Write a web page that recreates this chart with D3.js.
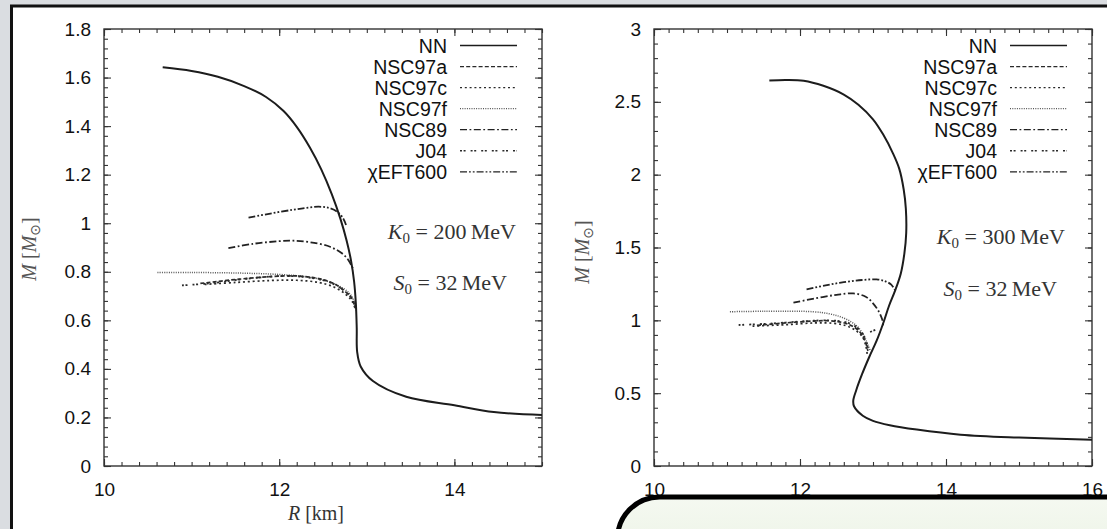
<!DOCTYPE html>
<html><head><meta charset="utf-8">
<script src="https://cdn.jsdelivr.net/npm/d3@7"></script>
<style>body{margin:0;background:#dadde1;overflow:hidden}</style>
</head><body>
<svg id="c" width="1107" height="529"></svg>
<script>
// ---------- DATA ----------
const seriesNames = ["NN","NSC97a","NSC97c","NSC97f","NSC89","J04","χEFT600"];

// K0 = 200 MeV panel
const xDomainK200 = [10, 15];
const yDomainK200 = [0, 1.8];
const xTicksK200 = [10, 12, 14];
const yTicksK200 = [0, 0.2, 0.4, 0.6, 0.8, 1, 1.2, 1.4, 1.6, 1.8];
const yTickLabelsK200 = ["0","0.2","0.4","0.6","0.8","1","1.2","1.4","1.6","1.8"];

const nnK200 = [[10.67,1.642],[11.0,1.627],[11.3,1.603],[11.6,1.565],[11.85,1.52],[12.05,1.462],[12.2,1.397],[12.35,1.312],[12.48,1.222],[12.6,1.12],[12.7,1.017],[12.77,0.928],[12.82,0.846],[12.855,0.76],[12.875,0.67],[12.885,0.57],[12.89,0.47],[12.93,0.41],[13.07,0.35],[13.45,0.285],[14.0,0.25],[14.45,0.222],[15.0,0.21]];
const nsc97aK200 = [[11.1,0.752],[11.5,0.768],[11.9,0.78],[12.2,0.783],[12.45,0.772],[12.62,0.752],[12.75,0.72],[12.83,0.69],[12.87,0.65]];
const nsc97cK200 = [[11.15,0.748],[11.5,0.756],[11.9,0.764],[12.2,0.765],[12.45,0.756],[12.62,0.738],[12.75,0.71],[12.83,0.68],[12.87,0.645]];
const nsc97fK200 = [[10.61,0.797],[11.0,0.797],[11.5,0.795],[12.0,0.789],[12.3,0.78],[12.5,0.766],[12.68,0.742],[12.8,0.712],[12.86,0.675],[12.88,0.64]];
const nsc89K200 = [[11.42,0.897],[11.7,0.915],[12.0,0.926],[12.16,0.928],[12.35,0.922],[12.58,0.903],[12.72,0.875],[12.79,0.848],[12.84,0.815]];
const j04K200 = [[10.89,0.744],[11.2,0.752],[11.6,0.77],[12.0,0.782],[12.3,0.778],[12.55,0.76],[12.72,0.728],[12.82,0.695],[12.87,0.655]];
const eftK200 = [[11.65,1.023],[11.9,1.04],[12.15,1.055],[12.3,1.063],[12.45,1.068],[12.57,1.063],[12.66,1.048],[12.73,1.02],[12.77,0.985]];

// K0 = 300 MeV panel
const xDomainK300 = [10, 16];
const yDomainK300 = [0, 3];
const xTicksK300 = [10, 12, 14, 16];
const yTicksK300 = [0, 0.5, 1, 1.5, 2, 2.5, 3];
const yTickLabelsK300 = ["0","0.5","1","1.5","2","2.5","3"];

const nnK300 = [[11.58,2.646],[11.8,2.65],[12.05,2.645],[12.32,2.61],[12.6,2.55],[12.8,2.48],[13.0,2.38],[13.14,2.275],[13.27,2.15],[13.36,2.04],[13.42,1.9],[13.45,1.766],[13.455,1.6],[13.43,1.46],[13.38,1.32],[13.3,1.2],[13.22,1.1],[13.14,0.98],[13.05,0.86],[12.95,0.75],[12.85,0.63],[12.77,0.52],[12.73,0.45],[12.74,0.41],[12.86,0.345],[13.0,0.31],[13.23,0.28],[13.6,0.25],[14.2,0.215],[15.0,0.195],[16.0,0.18]];
const nsc97aK300 = [[11.41,0.965],[11.8,0.982],[12.18,0.995],[12.4,0.997],[12.58,0.985],[12.72,0.96],[12.82,0.92],[12.89,0.86],[12.93,0.79]];
const nsc97cK300 = [[11.35,0.96],[11.8,0.97],[12.2,0.982],[12.45,0.98],[12.62,0.965],[12.75,0.935],[12.85,0.89],[12.9,0.83],[12.92,0.77]];
const nsc97fK300 = [[11.04,1.059],[11.5,1.062],[12.18,1.059],[12.4,1.045],[12.55,1.025],[12.7,0.99],[12.8,0.95],[12.88,0.89],[12.93,0.83],[12.96,0.796]];
const nsc89K300 = [[11.91,1.121],[12.2,1.15],[12.5,1.175],[12.73,1.185],[12.9,1.162],[13.0,1.117],[13.08,1.06],[13.13,1.0],[13.14,0.965]];
const j04K300 = [[11.16,0.968],[11.6,0.978],[12.1,0.995],[12.4,1.0],[12.6,0.99],[12.75,0.962],[12.85,0.915],[12.91,0.85],[12.94,0.78]];
const j04bK300 = [[12.96,0.92],[13.06,0.94]];
const eftK300 = [[12.09,1.213],[12.35,1.24],[12.6,1.262],[12.85,1.277],[13.05,1.281],[13.17,1.268],[13.25,1.245],[13.3,1.208]];

// ---------- STYLE ----------
const styles = {
  "NN":      {dash:null, w:2.0, c:"#1c1c1c"},
  "NSC97a":  {dash:"4,2.2", w:1.7, c:"#2a2a2a"},
  "NSC97c":  {dash:"2,2.8", w:1.7, c:"#2a2a2a"},
  "NSC97f":  {dash:"1,1.3", w:1.5, c:"#555"},
  "NSC89":   {dash:"7,2.5,1.8,2.5", w:1.8, c:"#222"},
  "J04":     {dash:"2,1.6,2,5", w:1.8, c:"#2a2a2a"},
  "χEFT600": {dash:"7,2,1.8,2,1.8,2", w:1.8, c:"#222"}
};

const svg = d3.select("#c");
const defs = svg.append("defs");
svg.append("rect").attr("width",1107).attr("height",529).attr("fill","#dadde1");
svg.append("rect").attr("x",11.5).attr("y",6).attr("width",1300).attr("height",700)
  .attr("fill","#fff").attr("stroke","#111").attr("stroke-width",3);

const W = 438, H = 437;
const sansFont = "'Liberation Sans', Arial, Helvetica, sans-serif";
const serifFont = "'Liberation Serif', 'DejaVu Serif', serif";

function panel(cfg){
  const g = svg.append("g").attr("transform",`translate(${cfg.left},${cfg.top})`);
  const x = d3.scaleLinear().domain(cfg.xDomain).range([0,W]);
  const y = d3.scaleLinear().domain(cfg.yDomain).range([H,0]);
  const clipId = "clip"+cfg.id;
  defs.append("clipPath").attr("id",clipId).append("rect").attr("width",W).attr("height",H);

  const styleAxis = (sel)=>{
    sel.select(".domain").remove();
    sel.selectAll("line").attr("stroke","#333").attr("stroke-width",1.1);
    sel.selectAll("text").attr("font-family",sansFont).attr("font-size",19).attr("fill","#111");
  };
  // minor ticks
  g.append("g").attr("transform",`translate(0,${H})`).call(d3.axisBottom(x).tickValues(cfg.xMinor).tickSize(-4).tickFormat("")).call(styleAxis);
  g.append("g").call(d3.axisTop(x).tickValues(cfg.xMinor).tickSize(-4).tickFormat("")).call(styleAxis);
  g.append("g").call(d3.axisLeft(y).tickValues(cfg.yMinor).tickSize(-4).tickFormat("")).call(styleAxis);
  g.append("g").attr("transform",`translate(${W},0)`).call(d3.axisRight(y).tickValues(cfg.yMinor).tickSize(-4).tickFormat("")).call(styleAxis);
  // major ticks
  g.append("g").attr("transform",`translate(0,${H})`)
    .call(d3.axisBottom(x).tickValues(cfg.xTicks).tickSize(-7).tickPadding(17).tickFormat(d3.format("d"))).call(styleAxis);
  g.append("g").call(d3.axisTop(x).tickValues(cfg.xTicks).tickSize(-7).tickFormat("")).call(styleAxis);
  g.append("g").call(d3.axisLeft(y).tickValues(cfg.yTicks).tickSize(-7).tickPadding(13).tickFormat((d,i)=>cfg.yLabels[i])).call(styleAxis);
  g.append("g").attr("transform",`translate(${W},0)`).call(d3.axisRight(y).tickValues(cfg.yTicks).tickSize(-7).tickFormat("")).call(styleAxis);

  // frame
  g.append("rect").attr("width",W).attr("height",H).attr("fill","none").attr("stroke","#333").attr("stroke-width",1.4);

  const line = d3.line().x(d=>x(d[0])).y(d=>y(d[1])).curve(d3.curveCatmullRom.alpha(0.5));
  const cg = g.append("g").attr("clip-path",`url(#${clipId})`);
  cfg.curves.forEach(cv=>{
    const s = styles[cv.name];
    cg.append("path").attr("d",line(cv.data)).attr("fill","none")
      .attr("stroke",s.c).attr("stroke-width",s.w)
      .attr("stroke-dasharray",s.dash).attr("stroke-linejoin","round");
  });

  // legend
  const lg = g.append("g");
  seriesNames.forEach((n,i)=>{
    const yy = 16.5 + i*21.05;
    const s = styles[n];
    lg.append("text").attr("x",W-95).attr("y",yy).attr("dy","0.36em").attr("text-anchor","end")
      .attr("font-family",sansFont).attr("font-size",19.5).attr("fill","#111").text(n);
    lg.append("line").attr("x1",W-82).attr("x2",W-25).attr("y1",yy).attr("y2",yy)
      .attr("stroke",s.c).attr("stroke-width",n==="NN"?1.6:1.3).attr("stroke-dasharray",s.dash);
  });

  // annotations
  const ann = (xx,yy,sym,val)=>{
    const t = g.append("text").attr("x",xx).attr("y",yy).attr("text-anchor","end")
      .attr("font-family",serifFont).attr("font-size",22).attr("fill","#333");
    t.append("tspan").attr("font-style","italic").text(sym);
    t.append("tspan").attr("font-size",15).attr("dy",4).text("0");
    t.append("tspan").attr("dy",-4).text(" = "+val+"\u2009MeV");
  };
  ann(W-cfg.kRight, cfg.kY, "K", cfg.kVal);
  ann(W-cfg.sRight, cfg.sY, "S", "32");

  // y title
  const yt = g.append("text").attr("transform",`translate(${cfg.yTitleX},${cfg.yTitleY}) rotate(-90)`)
    .attr("text-anchor","middle").attr("font-family",serifFont).attr("font-size",20).attr("fill","#555");
  yt.append("tspan").attr("font-style","italic").text("M");
  yt.append("tspan").text(" [");
  yt.append("tspan").attr("font-style","italic").text("M");
  yt.append("tspan").attr("font-size",14).attr("dy",4).attr("font-family","'DejaVu Sans', sans-serif").text("\u2299");
  yt.append("tspan").attr("dy",-4).text("]");

  if(cfg.xTitle){
    const xt = g.append("text").attr("x",cfg.xTitleX).attr("y",cfg.xTitleY).attr("text-anchor","middle")
      .attr("font-family",serifFont).attr("font-size",20).attr("fill","#333");
    xt.append("tspan").attr("font-style","italic").text("R");
    xt.append("tspan").text(" [km]");
  }
  return g;
}

panel({
  id:"a", left:104, top:29, xDomain:xDomainK200, yDomain:yDomainK200,
  xTicks:xTicksK200, yTicks:yTicksK200, yLabels:yTickLabelsK200,
  xMinor:d3.range(10,15.001,0.2), yMinor:d3.range(0,1.8001,0.04),
  curves:[
    {name:"NSC97f",data:nsc97fK200},{name:"NSC97c",data:nsc97cK200},{name:"J04",data:j04K200},
    {name:"NSC97a",data:nsc97aK200},{name:"NSC89",data:nsc89K200},{name:"χEFT600",data:eftK200},
    {name:"NN",data:nnK200}],
  kVal:"200", kRight:26, kY:210, sRight:35, sY:261,
  yTitleX:-68, yTitleY:220, xTitle:true, xTitleX:212, xTitleY:491
});

panel({
  id:"b", left:654, top:29, xDomain:xDomainK300, yDomain:yDomainK300,
  xTicks:xTicksK300, yTicks:yTicksK300, yLabels:yTickLabelsK300,
  xMinor:d3.range(10,16.001,0.2), yMinor:d3.range(0,3.0001,0.1),
  curves:[
    {name:"NSC97f",data:nsc97fK300},{name:"NSC97c",data:nsc97cK300},{name:"J04",data:j04K300},
    {name:"J04",data:j04bK300},
    {name:"NSC97a",data:nsc97aK300},{name:"NSC89",data:nsc89K300},{name:"χEFT600",data:eftK300},
    {name:"NN",data:nnK300}],
  kVal:"300", kRight:27, kY:215, sRight:35, sY:267,
  yTitleX:-65, yTitleY:223, xTitle:false
});

// overlay box
const grad = defs.append("linearGradient").attr("id","gbox").attr("x1",0).attr("y1",0).attr("x2",0).attr("y2",1);
grad.append("stop").attr("offset","0%").attr("stop-color","#f5f9f1");
grad.append("stop").attr("offset","100%").attr("stop-color","#e3eddb");
svg.append("rect").attr("x",617.5).attr("y",497).attr("width",700).attr("height",120).attr("rx",42).attr("ry",42)
  .attr("fill","url(#gbox)").attr("stroke","#000").attr("stroke-width",5);
</script>
</body></html>
